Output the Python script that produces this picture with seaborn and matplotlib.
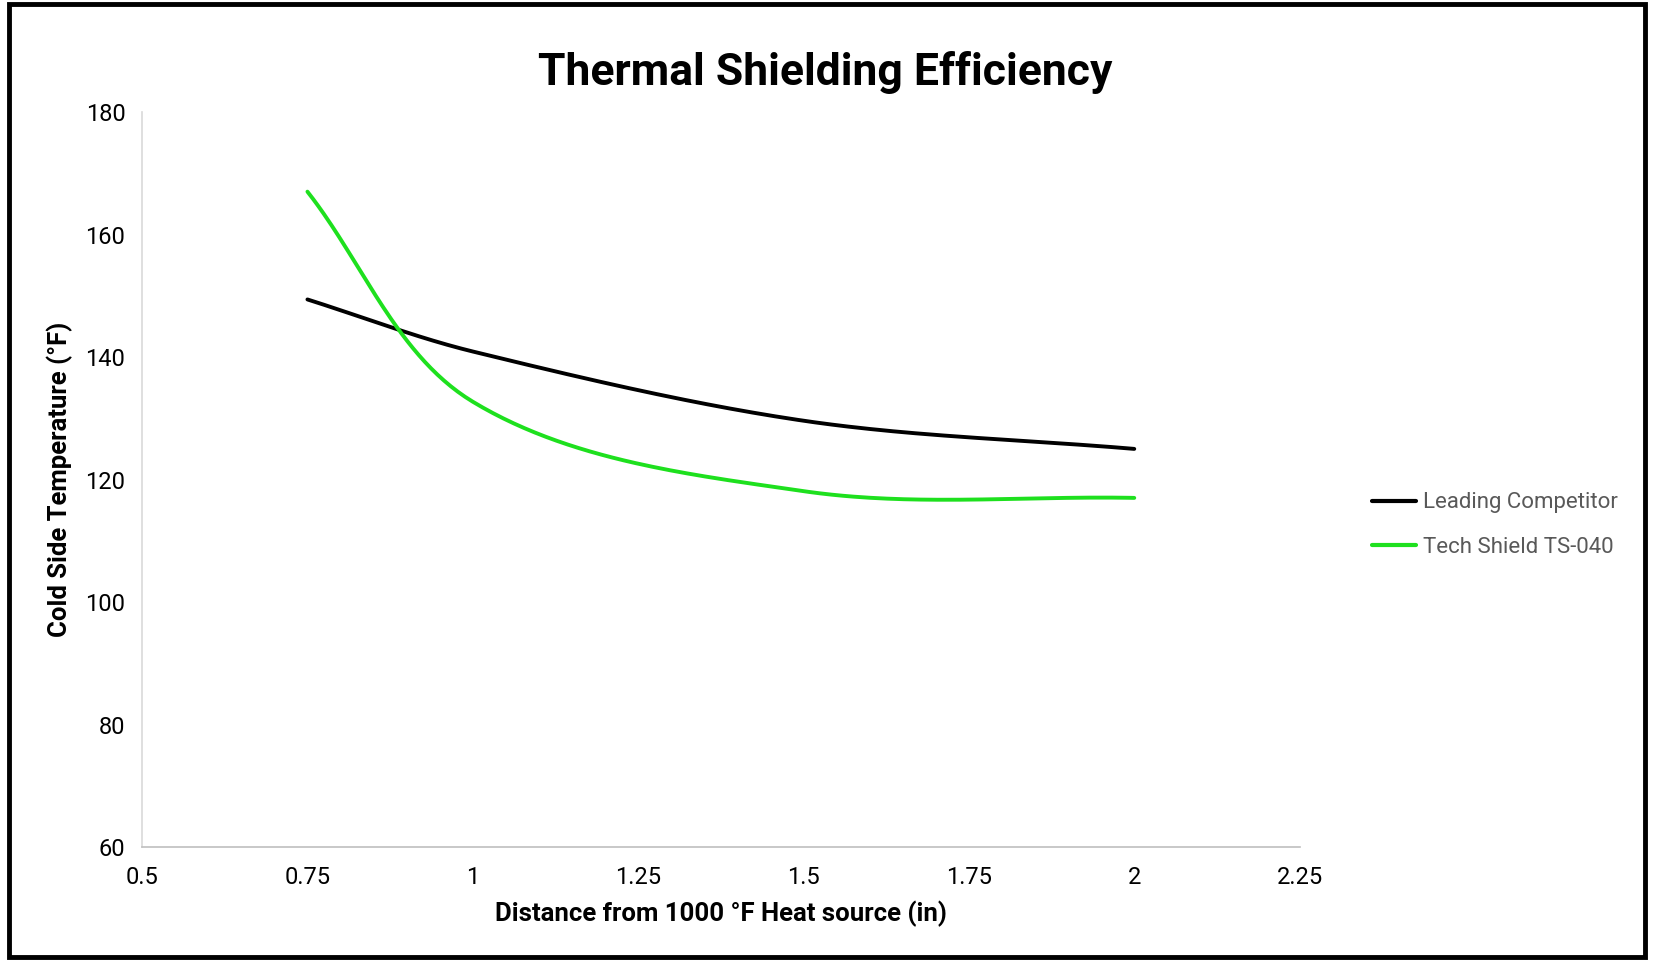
import numpy as np
import pandas as pd
import matplotlib
matplotlib.use("Agg")
import matplotlib.pyplot as plt
from matplotlib.patches import Rectangle
import seaborn as sns

# Values
distance_in = [0.75, 1.0, 1.5, 2.0]
leading_competitor = [149.4, 140.9, 129.6, 125.0]
tech_shield = [167.0, 132.7, 118.1, 117.0]
series_names = ["Leading Competitor", "Tech Shield TS-040"]
series_colors = ["#000000", "#1ee01e"]
x_ticks = [0.5, 0.75, 1, 1.25, 1.5, 1.75, 2, 2.25]
x_tick_labels = ["0.5", "0.75", "1", "1.25", "1.5", "1.75", "2", "2.25"]
y_ticks = [60, 80, 100, 120, 140, 160, 180]

FONT = ["Roboto", "DejaVu Sans"]


def smooth_line(ax, xs, ys, steps=60):
    """
    Excel-like smoothed line: cubic Bezier segments, worked out in pixel space,
    with tangent lengths scaled by the segment length.
    """
    pts = ax.transData.transform(np.column_stack([xs, ys]))
    n = len(pts)
    t = np.linspace(0, 1, steps)[:, None]
    curve = []
    for i in range(n - 1):
        p0 = pts[max(i - 1, 0)]
        p1 = pts[i]
        p2 = pts[i + 1]
        p3 = pts[min(i + 2, n - 1)]
        seg_len = np.linalg.norm(p2 - p1)
        d1 = (p2 - p0) / np.linalg.norm(p2 - p0)
        d2 = (p3 - p1) / np.linalg.norm(p3 - p1)
        c1 = p1 + d1 * seg_len / 3
        c2 = p2 - d2 * seg_len / 3
        seg = (1 - t) ** 3 * p1 + 3 * (1 - t) ** 2 * t * c1 + 3 * (1 - t) * t ** 2 * c2 + t ** 3 * p2
        curve.append(seg if i == 0 else seg[1:])
    curve = ax.transData.inverted().transform(np.vstack(curve))
    return curve[:, 0], curve[:, 1]


def build_frame(ax):
    """
    Builds the long-form table of smoothed curves for seaborn.
    """
    frames = []
    for name, values in zip(series_names, [leading_competitor, tech_shield]):
        sx, sy = smooth_line(ax, distance_in, values)
        frames.append(pd.DataFrame({"Distance": sx, "Temp": sy, "Series": name}))
    return pd.concat(frames, ignore_index=True)


def plot_chart():
    sns.set_theme(style="white")
    plt.rcParams["font.family"] = FONT

    fig = plt.figure(figsize=(16.56, 9.6), dpi=100)
    ax = fig.add_axes([0.0858, 0.1177, 0.699, 0.7656])
    ax.set_xlim(0.5, 2.25)
    ax.set_ylim(60, 180)

    df = build_frame(ax)
    sns.lineplot(
        data=df, x="Distance", y="Temp", hue="Series", sort=False,
        palette=dict(zip(series_names, series_colors)),
        linewidth=2.8, ax=ax, estimator=None,
    )

    ax.set_xlim(0.5, 2.25)
    ax.set_ylim(60, 180)
    ax.set_xticks(x_ticks)
    ax.set_xticklabels(x_tick_labels)
    ax.set_yticks(y_ticks)
    ax.tick_params(axis="x", length=0, labelsize=17, colors="#000000", pad=14)
    ax.tick_params(axis="y", length=0, labelsize=17, colors="#000000", pad=12)

    for side in ["top", "right"]:
        ax.spines[side].set_visible(False)
    ax.spines["left"].set_color("#d9d9d9")
    ax.spines["bottom"].set_color("#bfbfbf")
    ax.spines["left"].set_linewidth(1.2)
    ax.spines["bottom"].set_linewidth(1.2)

    ax.set_xlabel("Distance from 1000 °F Heat source (in)", fontsize=18.5,
                  fontweight="bold", color="black", labelpad=8)
    ax.set_ylabel("Cold Side Temperature (°F)", fontsize=18.5,
                  fontweight="bold", color="black", labelpad=9)

    fig.text(0.498, 0.924, "Thermal Shielding Efficiency", ha="center", va="center",
             fontsize=32, fontweight="bold", color="black")

    leg = ax.legend(
        loc="center left", bbox_to_anchor=(1.045, 0.438), frameon=False,
        fontsize=16, handlelength=2.0, handletextpad=0.3, labelspacing=1.05,
    )
    for txt in leg.get_texts():
        txt.set_color("#595959")
    for line in leg.get_lines():
        line.set_linewidth(3)

    # black frame round the whole chart
    fig.patches.append(Rectangle((0.0055, 0.003), 0.988, 0.993, transform=fig.transFigure,
                                 fill=False, edgecolor="black", linewidth=3.5))

    fig.savefig("out.png", dpi=100)


if __name__ == "__main__":
    plot_chart()
